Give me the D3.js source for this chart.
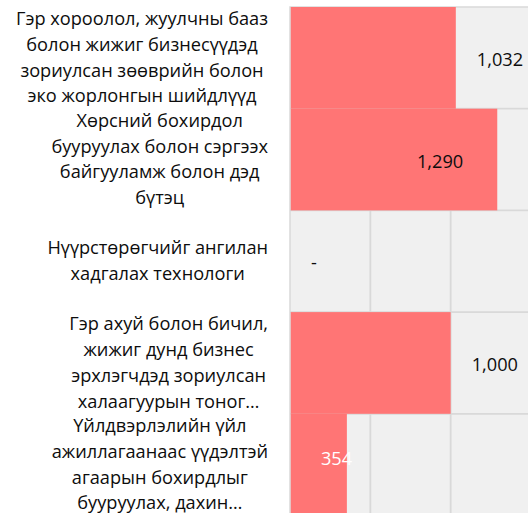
<!DOCTYPE html>
<html><head><meta charset="utf-8">
<script src="https://cdn.jsdelivr.net/npm/d3@7/dist/d3.min.js"></script>
<style>html,body{margin:0;padding:0;background:#fff}svg{display:block}</style>
</head><body><svg id="c" width="528" height="513"></svg>
<script>
const categories = [
  ["Гэр хороолол, жуулчны бааз", "болон жижиг бизнесүүдэд", "зориулсан зөөврийн болон", "эко жорлонгын шийдлүүд"],
  ["Хөрсний бохирдол", "бууруулах болон сэргээх", "байгууламж болон дэд", "бүтэц"],
  ["Нүүрстөрөгчийг ангилан", "хадгалах технологи"],
  ["Гэр ахуй болон бичил,", "жижиг дунд бизнес", "эрхлэгчдэд зориулсан", "халаагуурын тоног…"],
  ["Үйлдвэрлэлийн үйл", "ажиллагаанаас үүдэлтэй", "агаарын бохирдлыг", "бууруулах, дахин…"]
];
const values = [1032, 1290, 0, 1000, 354];
const xTicks = [0, 500, 1000, 1500];

const FONT = "'Open Sans', 'Noto Sans', sans-serif";
const FS = 18.2;
const svg = d3.select("#c");
const plot = {left: 290, top: 7, right: 531, bottom: 515.5};
const x = d3.scaleLinear().domain([0, 1500]).range([plot.left, plot.right]);
const y = d3.scaleBand().domain(d3.range(categories.length)).range([plot.top, plot.bottom]).padding(0);

// plot background
svg.append("rect")
  .attr("x", plot.left).attr("y", plot.top)
  .attr("width", 300).attr("height", 600)
  .attr("fill", "#f0f0f0").attr("stroke", "#d9d9d9").attr("stroke-width", 1.5);

// vertical gridlines
svg.append("g").selectAll("line").data(xTicks.slice(1)).join("line")
  .attr("x1", d => x(d)).attr("x2", d => x(d))
  .attr("y1", plot.top).attr("y2", 600)
  .attr("stroke", "#d9d9d9").attr("stroke-width", 1.8);

// horizontal separators at category boundaries
svg.append("g").selectAll("line").data(d3.range(1, categories.length)).join("line")
  .attr("x1", plot.left).attr("x2", 600)
  .attr("y1", d => y(d)).attr("y2", d => y(d))
  .attr("stroke", "#d9d9d9").attr("stroke-width", 1.8);

// bars
svg.append("g").selectAll("rect").data(values).join("rect")
  .attr("x", x(0) + 0.75)
  .attr("y", (d, i) => y(i))
  .attr("width", d => Math.max(0, x(d) - x(0) - 0.75))
  .attr("height", y.bandwidth())
  .attr("fill", "#ff7575");

// category labels: block right-aligned, lines centered within block
const LS = 25.7;
const labelRight = 268;
categories.forEach((lines, i) => {
  const t = svg.append("text")
    .attr("font-family", FONT).attr("font-size", FS)
    .attr("fill", "#0d0d0d").attr("text-anchor", "middle");
  const cy = y(i) + y.bandwidth() / 2;
  const spans = lines.map((ln, j) =>
    t.append("tspan").text(ln)
      .attr("y", cy + (j - (lines.length - 1) / 2) * LS + 6));
  const maxW = d3.max(spans, s => s.node().getComputedTextLength());
  spans.forEach(s => s.attr("x", labelRight - maxW / 2));
});

// value labels
const fmt = v => v === 0 ? "-" : d3.format(",")(v);
const special = {
  1: {anchor: "end", dx: -34, dy: 0, fill: "#0d0d0d"},
  4: {anchor: "start", dx: -26, dy: -8, fill: "#fff"}
};
svg.append("g").selectAll("text").data(values).join("text")
  .attr("font-family", FONT).attr("font-size", FS)
  .attr("x", (d, i) => x(d) + (special[i] ? special[i].dx : 21))
  .attr("y", (d, i) => y(i) + y.bandwidth() / 2 + 8 + (special[i] ? special[i].dy : 0))
  .attr("text-anchor", (d, i) => special[i] ? special[i].anchor : "start")
  .attr("fill", (d, i) => special[i] ? special[i].fill : "#0d0d0d")
  .text(fmt);
</script></body></html>
